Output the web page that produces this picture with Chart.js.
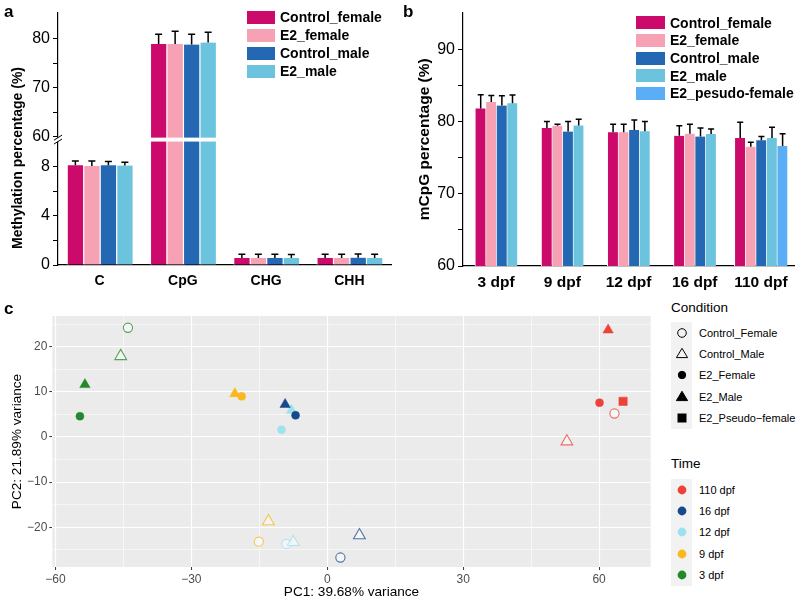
<!DOCTYPE html>
<html>
<head>
<meta charset="utf-8">
<script src="https://cdn.jsdelivr.net/npm/chart.js@4.4.1/dist/chart.umd.min.js"></script>
<style>
  body { margin: 0; background: #fff; font-family: 'Liberation Sans', Arial, sans-serif; }
  #wrap { position: relative; width: 800px; height: 601px; overflow: hidden; }
  canvas { position: absolute; }
  .tag { position: absolute; font-weight: bold; font-size: 17px; line-height: 17px; }
  .ytitle { position: absolute; font-weight: bold; font-size: 14px; white-space: nowrap;
    transform: translate(-50%, -50%) rotate(-90deg); }
  .barleg { position: absolute; font-weight: bold; font-size: 14px; color: #000; }
  .barleg .row { display: flex; align-items: center; }
  .barleg .box { display: inline-block; height: 13px; margin-right: 5px; }
  .gleg { position: absolute; font-size: 11px; color: #000; }
  .gleg .ttl { font-size: 13.5px; height: 20px; line-height: 16px; }
  .gleg .row { display: flex; align-items: center; height: 21.4px; }
  .gleg .key { width: 21px; height: 21.4px; background: #F2F2F2; display: flex; align-items: center; justify-content: center; margin-right: 7px; }
</style>
</head>
<body>
<div id="wrap">
  <canvas id="chartA" width="400" height="300" style="left:0;top:0"></canvas>
  <canvas id="chartB" width="400" height="300" style="left:400px;top:0"></canvas>
  <canvas id="chartC" width="660" height="301" style="left:0;top:300px"></canvas>
  <div class="tag" style="left:4px;top:3px">a</div>
  <div class="tag" style="left:403px;top:3px">b</div>
  <div class="tag" style="left:4px;top:300px">c</div>
  <div class="ytitle" style="left:17px;top:158px">Methylation percentage (%)</div>
  <div id="legA" class="barleg" style="left:247px;top:8px"></div>
  <div id="legB" class="barleg" style="left:636px;top:14px"></div>
  <div id="legC" class="gleg" style="left:671px;top:300px"></div>
</div>
<script>
const FONT = "'Liberation Sans', Arial, sans-serif";

// panel a: global methylation by context
const contexts = ['C', 'CpG', 'CHG', 'CHH'];
const groupNames = ['Control_female', 'E2_female', 'Control_male', 'E2_male'];
const methCtrlF = [8.12, 78.9, 0.58, 0.58];
const methE2F = [8.06, 78.9, 0.58, 0.58];
const methCtrlM = [8.12, 78.8, 0.58, 0.6];
const methE2M = [8.1, 79.2, 0.58, 0.58];
const errCtrlF = [0.36, 2.0, 0.3, 0.3];
const errE2F = [0.42, 2.6, 0.3, 0.3];
const errCtrlM = [0.32, 2.1, 0.3, 0.3];
const errE2M = [0.28, 2.1, 0.28, 0.3];
const methTickValues = [0, 2, 4, 6, 8, 60, 65, 70, 75, 80];
const methTickLabels = ['0', '', '4', '', '8', '60', '', '70', '', '80'];

// panel b: mCpG by stage
const stages = ['3 dpf', '9 dpf', '12 dpf', '16 dpf', '110 dpf'];
const stageGroups = ['Control_female', 'E2_female', 'Control_male', 'E2_male', 'E2_pesudo-female'];
const mcpgCtrlF = [81.8, 79.1, 78.5, 78.0, 77.7];
const mcpgE2F = [82.7, 79.4, 78.5, 78.3, 76.5];
const mcpgCtrlM = [82.2, 78.6, 78.8, 77.9, 77.4];
const mcpgE2M = [82.5, 79.45, 78.65, 78.25, 77.7];
const mcpgPseudo = [null, null, null, null, 76.6];
const sdCtrlF = [1.9, 0.9, 1.1, 1.4, 2.2];
const sdE2F = [0.9, 0.2, 1.1, 1.3, 0.6];
const sdCtrlM = [1.35, 1.4, 1.4, 1.2, 0.5];
const sdE2M = [1.15, 0.85, 1.35, 0.7, 1.5];
const sdPseudo = [null, null, null, null, 1.7];
const mcpgTickValues = [60, 65, 70, 75, 80, 85, 90];

// panel c: PCA
const pcaTime = ['3 dpf', '3 dpf', '3 dpf', '3 dpf', '9 dpf', '9 dpf', '9 dpf', '9 dpf',
  '12 dpf', '12 dpf', '12 dpf', '12 dpf', '16 dpf', '16 dpf', '16 dpf', '16 dpf',
  '110 dpf', '110 dpf', '110 dpf', '110 dpf', '110 dpf'];
const pcaCondition = ['Control_Female', 'Control_Male', 'E2_Female', 'E2_Male',
  'Control_Female', 'Control_Male', 'E2_Female', 'E2_Male',
  'Control_Female', 'Control_Male', 'E2_Female', 'E2_Male',
  'Control_Female', 'Control_Male', 'E2_Female', 'E2_Male',
  'Control_Female', 'Control_Male', 'E2_Female', 'E2_Male', 'E2_Pseudo-female'];
const pc1 = [-44.0, -45.6, -54.6, -53.5, -15.1, -13.0, -18.9, -20.4,
  -9.0, -7.5, -10.1, -7.9, 2.9, 7.1, -7.0, -9.3, 63.4, 52.9, 60.1, 62.0, 65.3];
const pc2 = [24.2, 17.9, 4.6, 11.6, -23.2, -18.7, 9.0, 9.6,
  -23.7, -23.3, 1.6, 5.9, -26.7, -21.8, 4.8, 7.2, 5.2, -1.0, 7.6, 23.7, 7.9];
const pc1Ticks = [-60, -45, -30, -15, 0, 15, 30, 45, 60];
const pc2Ticks = [-25, -20, -15, -10, -5, 0, 5, 10, 15, 20, 25];
const conditionLevels = ['Control_Female', 'Control_Male', 'E2_Female', 'E2_Male', 'E2_Pseudo-female'];
const timeLevels = ['110 dpf', '16 dpf', '12 dpf', '9 dpf', '3 dpf'];

// colours / shapes
const barColors = ['#CB0A6C', '#F6A1B4', '#2468B4', '#6CC3DE', '#5AAEF6'];
const timeColors = { '110 dpf': '#EC4239', '16 dpf': '#174A8C', '12 dpf': '#9EE2EE', '9 dpf': '#F9B81E', '3 dpf': '#238A2A' };
const condStyle = {
  'Control_Female': { shape: 'circle', open: true, r: 4.6 },
  'Control_Male': { shape: 'triangle', open: true, r: 6.8 },
  'E2_Female': { shape: 'circle', open: false, r: 4.0 },
  'E2_Male': { shape: 'triangle', open: false, r: 6.0 },
  'E2_Pseudo-female': { shape: 'rect', open: false, r: 5.9 }
};

function withAlpha(hex, a) {
  const n = parseInt(hex.slice(1), 16);
  return 'rgba(' + (n >> 16) + ',' + ((n >> 8) & 255) + ',' + (n & 255) + ',' + a + ')';
}

// error bars drawn on top of each bar (upper side only)
function makeErrorBars(transform, halfCap) {
  return {
    id: 'errorBars',
    afterDatasetsDraw(chart) {
      const ctx = chart.ctx;
      const y = chart.scales.y;
      ctx.save();
      ctx.strokeStyle = '#000';
      ctx.lineWidth = 1.5;
      chart.data.datasets.forEach((ds, i) => {
        chart.getDatasetMeta(i).data.forEach((bar, j) => {
          const v = ds.plainValues[j], e = ds.errors[j];
          if (v == null || e == null) return;
          const top = y.getPixelForValue(transform(v + e));
          const x = bar.x + 0.5;
          ctx.beginPath();
          ctx.moveTo(x, bar.y);
          ctx.lineTo(x, top);
          ctx.moveTo(x - halfCap, top);
          ctx.lineTo(x + halfCap, top);
          ctx.stroke();
        });
      });
      ctx.restore();
    }
  };
}

// broken y axis for panel a: 0-10 kept, 60+ compressed on top
const brk = v => (v <= 10 ? v : 10.45 + (v - 60) * 0.4);
const axisBreak = {
  id: 'axisBreak',
  afterDatasetsDraw(chart) {
    const { ctx, chartArea, scales: { y } } = chart;
    const y1 = y.getPixelForValue(10.38), y2 = y.getPixelForValue(10.06);
    ctx.save();
    ctx.fillStyle = '#fff';
    ctx.fillRect(chartArea.left - 1.5, y1, chartArea.right - chartArea.left + 3, y2 - y1);
    ctx.strokeStyle = '#000';
    ctx.lineWidth = 1;
    [y1, y2].forEach(yy => {
      ctx.beginPath();
      ctx.moveTo(chartArea.left - 4, yy + 2.5);
      ctx.lineTo(chartArea.left + 4, yy - 2.5);
      ctx.stroke();
    });
    ctx.restore();
  }
};

const greyPanel = {
  id: 'greyPanel',
  beforeDraw(chart) {
    const { ctx, chartArea: a } = chart;
    ctx.save();
    ctx.fillStyle = '#EBEBEB';
    ctx.fillRect(a.left, a.top, a.right - a.left, a.bottom - a.top);
    ctx.restore();
  }
};

function barLegend(id, names) {
  const el = document.getElementById(id);
  names.forEach((n, i) => {
    el.insertAdjacentHTML('beforeend',
      '<div class="row" style="height:' + (id === 'legA' ? 18 : 17.65) + 'px"><span class="box" style="width:' +
      (id === 'legA' ? 28 : 29) + 'px;background:' + barColors[i] + '"></span>' + n + '</div>');
  });
}
barLegend('legA', groupNames);
barLegend('legB', stageGroups);

// panel a
const methSets = [methCtrlF, methE2F, methCtrlM, methE2M];
const methErrs = [errCtrlF, errE2F, errCtrlM, errE2M];
new Chart(document.getElementById('chartA'), {
  type: 'bar',
  data: {
    labels: contexts,
    datasets: methSets.map((vals, i) => ({
      label: groupNames[i],
      data: vals.map(brk),
      plainValues: vals,
      errors: methErrs[i],
      backgroundColor: barColors[i],
      borderColor: '#fff',
      borderWidth: { left: 1.5, right: 0, top: 0, bottom: 0 },
      borderSkipped: false,
      barThickness: 16.5
    }))
  },
  options: {
    responsive: false,
    animation: false,
    layout: { padding: { top: 8, right: 9 } },
    plugins: { legend: { display: false }, tooltip: { enabled: false } },
    scales: {
      x: {
        grid: { display: false, drawTicks: false },
        border: { display: true, color: '#000', width: 1.2 },
        afterFit: s => { s.height = 35; },
        ticks: { padding: 8, color: '#000', font: { family: FONT, size: 14, weight: 'bold' } }
      },
      y: {
        min: 0,
        max: brk(85.3),
        afterBuildTicks: s => { s.ticks = methTickValues.map(v => ({ value: brk(v) })); },
        afterFit: s => { s.width = 58; },
        grid: { drawOnChartArea: false, color: '#000', tickLength: 5, lineWidth: 1 },
        border: { display: true, color: '#000', width: 1.2 },
        ticks: { autoSkip: false, padding: 3, color: '#000', font: { family: FONT, size: 16 },
          callback: (v, i) => methTickLabels[i] }
      }
    }
  },
  plugins: [axisBreak, makeErrorBars(brk, 3.5)]
});

// panel b
const mcpgSets = [mcpgCtrlF, mcpgE2F, mcpgCtrlM, mcpgE2M, mcpgPseudo];
const mcpgErrs = [sdCtrlF, sdE2F, sdCtrlM, sdE2M, sdPseudo];
new Chart(document.getElementById('chartB'), {
  type: 'bar',
  data: {
    labels: stages,
    datasets: mcpgSets.map((vals, i) => ({
      label: stageGroups[i],
      data: vals,
      plainValues: vals,
      errors: mcpgErrs[i],
      backgroundColor: barColors[i],
      borderColor: '#fff',
      borderWidth: { left: 1, right: 0, top: 0, bottom: 0 },
      borderSkipped: false,
      barThickness: 10.6,
      skipNull: true
    }))
  },
  options: {
    responsive: false,
    animation: false,
    layout: { padding: { top: 8, right: 6 } },
    plugins: { legend: { display: false }, tooltip: { enabled: false } },
    scales: {
      x: {
        grid: { display: false, drawTicks: false },
        border: { display: true, color: '#000', width: 1.2 },
        afterFit: s => { s.height = 34; },
        ticks: { padding: 7, color: '#000', font: { family: FONT, size: 15.5, weight: 'bold' } }
      },
      y: {
        min: 60,
        max: 95.05,
        afterBuildTicks: s => { s.ticks = mcpgTickValues.map(v => ({ value: v })); },
        afterFit: s => { s.width = 63; },
        grid: { drawOnChartArea: false, color: '#000', tickLength: 5, lineWidth: 1 },
        border: { display: true, color: '#000', width: 1.2 },
        ticks: { autoSkip: false, padding: 3, color: '#000', font: { family: FONT, size: 16 },
          callback: v => (v % 10 === 0 ? String(v) : '') },
        title: { display: true, text: 'mCpG percentage (%)', color: '#000',
          font: { family: FONT, size: 15.5, weight: 'bold' }, padding: { top: 15 } }
      }
    }
  },
  plugins: [makeErrorBars(v => v, 3)]
});

// panel c
const isMajorX = v => v % 30 === 0;
const isMajorY = v => v % 10 === 0;
const minusLabel = v => (v < 0 ? '\u2212' + Math.abs(v) : String(v));
new Chart(document.getElementById('chartC'), {
  type: 'scatter',
  data: {
    datasets: [{
      data: pc1.map((x, i) => ({ x: x, y: pc2[i] })),
      pointStyle: pcaCondition.map(c => condStyle[c].shape),
      pointRadius: pcaCondition.map(c => condStyle[c].r),
      pointBackgroundColor: pcaCondition.map((c, i) =>
        condStyle[c].open ? 'rgba(255,255,255,0.5)' : timeColors[pcaTime[i]]),
      pointBorderColor: pcaCondition.map((c, i) =>
        condStyle[c].open ? withAlpha(timeColors[pcaTime[i]], 0.75) : timeColors[pcaTime[i]]),
      pointBorderWidth: pcaCondition.map(c => (condStyle[c].open ? 1.1 : 0.5))
    }]
  },
  options: {
    responsive: false,
    animation: false,
    layout: { padding: { top: 16, right: 9.3 } },
    plugins: { legend: { display: false }, tooltip: { enabled: false } },
    scales: {
      x: {
        type: 'linear',
        min: -60.7,
        max: 71.4,
        afterBuildTicks: s => { s.ticks = pc1Ticks.map(v => ({ value: v })); },
        afterFit: s => { s.height = 34; },
        grid: { color: '#fff', lineWidth: c => (isMajorX(c.tick.value) ? 1.1 : 0.55),
          tickColor: c => (isMajorX(c.tick.value) ? '#333' : 'rgba(0,0,0,0)'), tickWidth: 1, tickLength: 3 },
        border: { display: false },
        ticks: { autoSkip: false, maxRotation: 0, padding: 2, color: '#4D4D4D', font: { family: FONT, size: 12 },
          callback: v => (isMajorX(v) ? minusLabel(v) : '') },
        title: { display: true, text: 'PC1: 39.68% variance', color: '#000',
          font: { family: FONT, size: 13.6 }, padding: { top: 0, bottom: 1 } }
      },
      y: {
        min: -28.8,
        max: 26.8,
        afterBuildTicks: s => { s.ticks = pc2Ticks.map(v => ({ value: v })); },
        afterFit: s => { s.width = 52.3; },
        grid: { color: '#fff', lineWidth: c => (isMajorY(c.tick.value) ? 1.1 : 0.55),
          tickColor: c => (isMajorY(c.tick.value) ? '#333' : 'rgba(0,0,0,0)'), tickWidth: 1, tickLength: 3 },
        border: { display: false },
        ticks: { autoSkip: false, padding: 2, color: '#4D4D4D', font: { family: FONT, size: 12 },
          callback: v => (isMajorY(v) ? minusLabel(v) : '') },
        title: { display: true, text: 'PC2: 21.89% variance', color: '#000',
          font: { family: FONT, size: 13.6 }, padding: { top: 9 } }
      }
    }
  },
  plugins: [greyPanel]
});

// ggplot-style legends for panel c
function shapeSvg(c, color) {
  const s = condStyle[c];
  const fill = s.open ? 'none' : color;
  let body;
  if (s.shape === 'circle') body = '<circle cx="8" cy="8" r="' + (s.open ? 4.3 : 3.7) + '"/>';
  else if (s.shape === 'triangle') body = '<polygon points="8,2.3 13.6,11.6 2.4,11.6"/>';
  else body = '<rect x="4" y="4" width="8" height="8"/>';
  return '<svg width="16" height="16"><g fill="' + fill + '" stroke="' + color + '" stroke-width="1">' + body + '</g></svg>';
}
const legC = document.getElementById('legC');
let html = '<div class="ttl">Condition</div><div style="height:2px"></div>';
conditionLevels.forEach(c => {
  html += '<div class="row"><div class="key">' + shapeSvg(c, '#000') + '</div>' + c.replace('-', '\u2212') + '</div>';
});
html += '<div style="height:27px"></div><div class="ttl">Time</div><div style="height:3px"></div>';
timeLevels.forEach(t => {
  html += '<div class="row"><div class="key"><svg width="16" height="16"><circle cx="8" cy="8" r="4.4" fill="' +
    timeColors[t] + '"/></svg></div>' + t + '</div>';
});
legC.innerHTML = html;
</script>
</body>
</html>
